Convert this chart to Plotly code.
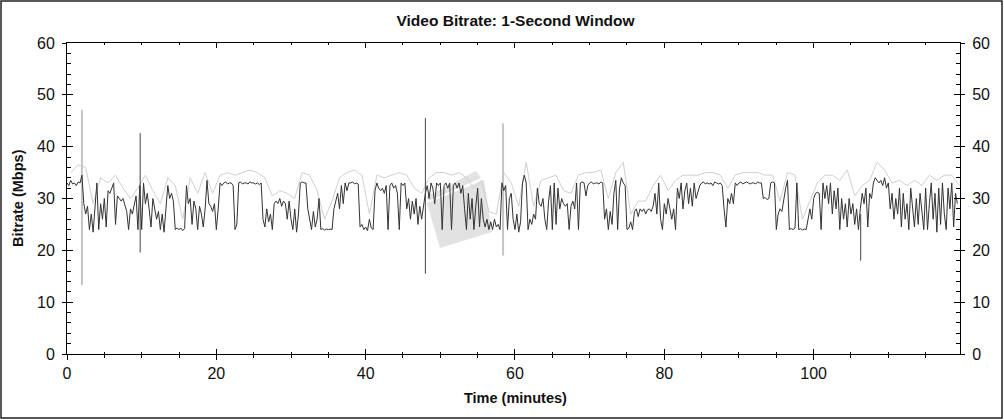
import plotly.graph_objects as go

# ---------------- data ----------------
step_min = 0.25  # sampling interval of the dark 1-second-window trace, minutes

bitrate = [
    33, 32.5, 33.5, 32.8,   # 0
    33, 32.5, 33.2, 33,     # 1
    34.5, 29, 27, 28.5,     # 2
    24, 27, 23.5, 28,       # 3
    33, 24, 29, 26,         # 4
    30, 24.5, 31.5, 31,     # 5
    32, 33, 25, 30.5,       # 6
    30, 29.5, 30, 28.5,     # 7
    27.5, 24, 28, 27,       # 8
    29, 30.5, 24, 32.5,     # 9
    24, 33, 29, 31,         # 10
    28, 24.5, 30, 28,       # 11
    26, 27.5, 24, 27,       # 12
    23.5, 28, 32.5, 30,     # 13
    31, 29.5, 24, 24.3,     # 14
    24, 24.3, 23.8, 24.2,   # 15
    32.5, 29, 30, 25,       # 16
    29.5, 28, 24, 28.5,     # 17
    27, 24.5, 28, 33.5,     # 18
    29, 28.5, 27.5, 29,     # 19
    24, 28, 33, 32.5,       # 20
    33, 33.2, 32.8, 33,     # 21
    33, 32.5, 24, 25,       # 22
    33, 33.2, 32.8, 33,     # 23
    33, 32.8, 33.2, 33,     # 24
    33, 32.8, 33, 32.7,     # 25
    33, 26, 24.5, 28,       # 26
    25.5, 27, 24, 29,       # 27
    29.5, 29, 30, 28.5,     # 28
    29.5, 29, 26, 29.5,     # 29
    26, 24, 28, 23.5,       # 30
    27, 33, 33.2, 33,       # 31
    33, 28, 26, 24,         # 32
    27.5, 24.5, 26, 30,     # 33
    24, 24.2, 23.9, 24.1,   # 34
    24, 24.1, 24, 28,       # 35
    29.5, 31, 28, 32.5,     # 36
    29, 33, 31.5, 33,       # 37
    33, 33.2, 32.8, 33,     # 38
    32.8, 24.5, 25, 24,     # 39
    24.5, 23.8, 26, 24.3,   # 40
    24, 31.5, 33, 32,       # 41
    31.5, 32, 31, 32.5,     # 42
    24, 32.5, 33, 32,       # 43
    32.5, 31, 24, 33,       # 44
    32.5, 33, 28, 30,       # 45
    26, 29.5, 27, 30,       # 46
    25, 28.5, 26, 29,       # 47
    31, 32.5, 30, 33,       # 48
    32, 29, 33, 32.5,       # 49
    33, 24, 32.5, 33,       # 50
    32, 33, 24, 32.5,       # 51
    33, 32, 33, 31,         # 52
    32.5, 28, 24, 31,       # 53
    26, 30, 24, 28.5,       # 54
    32, 24.5, 30, 26,       # 55
    24.5, 26, 24, 25.5,     # 56
    24, 26, 24.5, 25,       # 57
    24, 33, 31.5, 32.5,     # 58
    24, 30, 31, 26,         # 59
    24, 27, 23.5, 25.5,     # 60
    33, 34.5, 33, 24,       # 61
    26, 25, 27, 26,         # 62
    32, 29, 28.5, 30,       # 63
    26, 24, 29.5, 32.5,     # 64
    24, 33, 25, 32,         # 65
    28, 30, 29, 28.5,       # 66
    29, 24, 28.5, 29.5,     # 67
    28, 33, 24, 33,         # 68
    33.2, 33, 30.5, 32.5,   # 69
    33, 33.2, 32.8, 33,     # 70
    33, 32.8, 33.2, 33,     # 71
    26, 28, 24, 27.5,       # 72
    25, 31, 33.5, 24,       # 73
    32, 34, 33, 32.5,       # 74
    24, 24.3, 25.5, 24,     # 75
    27.5, 28, 26.5, 28,     # 76
    27.5, 28, 27, 27.8,     # 77
    28, 27.5, 28.5, 31,     # 78
    27, 33, 26, 24,         # 79
    29, 27, 30, 28,         # 80
    26, 28, 24, 32,         # 81
    30, 33, 28, 31.5,       # 82
    33, 29, 32, 28.5,       # 83
    33, 30, 31.5, 32.5,     # 84
    33, 33.2, 32.8, 33,     # 85
    32.8, 33, 32.5, 33.2,   # 86
    33, 32.8, 33, 32.5,     # 87
    28, 24.5, 30, 29,       # 88
    31, 29, 33, 32.5,       # 89
    33, 33.2, 32.8, 33,     # 90
    33.2, 33, 32.8, 33,     # 91
    33, 32.8, 33.2, 33,     # 92
    33, 30, 30.2, 29.8,     # 93
    30, 33, 33.2, 33,       # 94
    24, 27, 28, 27.5,       # 95
    30, 32, 33.5, 24,       # 96
    24.2, 24, 24.3, 33,     # 97
    24, 24.2, 23.9, 24.1,   # 98
    24, 26, 28, 26,         # 99
    30, 31, 31.2, 31,       # 100
    24, 33, 30, 32.5,       # 101
    29, 33, 27, 31.5,       # 102
    28, 32, 24, 30,         # 103
    26, 29, 24.5, 30,       # 104
    27, 29, 25, 28,         # 105
    24, 28, 31, 29,         # 106
    32, 24.5, 31, 30,       # 107
    33, 34, 33.5, 33,       # 108
    33.5, 32.5, 34, 32,     # 109
    33, 28, 31, 26,         # 110
    30, 27, 32, 24.5,       # 111
    31, 26, 29, 24,         # 112
    32, 28, 24.5, 30,       # 113
    25, 31, 27, 24,         # 114
    32, 24, 29, 33,         # 115
    26, 31, 23.5, 32,       # 116
    25, 33, 27, 24,         # 117
    32, 28, 33, 24.5,       # 118
    31, 29,                 # 119
]

# light-grey per-minute peak envelope (one value per minute, centred on the minute)
peak_t = [m + 0.5 for m in range(120)]
peak = [
    35, 36.5, 36, 29, 34, 33, 34.5, 32, 30, 32,
    34.5, 31.5, 29, 34, 32.5, 26, 34, 31, 35, 31,
    34.5, 35, 34.5, 35, 35.5, 35, 34, 30.5, 31.5, 31,
    30, 35, 34.5, 31.5, 26, 29.5, 34, 35, 35.5, 34.5,
    27, 34.5, 34, 34.5, 35, 34.5, 32, 31, 34, 35,
    35, 34.5, 35, 34, 32, 33.5, 27.5, 27, 35, 33,
    28.5, 37, 28.5, 33.5, 34, 34.5, 31.5, 31, 34.5, 35,
    35, 35.5, 30, 35, 37, 27, 29.5, 29.5, 32.5, 34.5,
    31.5, 33.5, 34.5, 34.5, 34.5, 35, 35, 34.5, 32, 34.5,
    35, 35, 35, 34.5, 34.5, 29.5, 35, 34.5, 26, 29.5,
    33, 34.5, 34.5, 33.5, 35.5, 30.5, 32.5, 33.5, 37, 35.5,
    33, 33.5, 32.5, 33.5, 32.5, 34.5, 33.5, 34.5, 34.5, 32.5,
]

# isolated spikes
light_spike_t = [2.0, 58.4]
light_spike_hi = [47.1, 44.5]
light_spike_lo = [13.3, 19.0]
dark_spike_t = [9.8, 48.0, 106.3]
dark_spike_hi = [42.6, 45.5, 27.0]
dark_spike_lo = [19.6, 15.5, 18.0]

x_range = [0, 119.6]
y_range = [0, 60]

# ---------------- figure ----------------
t = [i * step_min for i in range(len(bitrate))]

def segs(ts, lo, hi):
    xs, ys = [], []
    for a, b, c in zip(ts, lo, hi):
        xs += [a, a, None]
        ys += [b, c, None]
    return xs, ys

# plot-area geometry in pixels (for paper-referenced decorations)
L, R, T, B = 67, 44, 43, 66
PW, PH = 1004 - L - R, 420 - T - B
def px(x):
    return (x - L) / PW
def py(y):
    return (420 - B - y) / PH
def path(points):
    return "M " + " L ".join(f"{px(a):.4f},{py(b):.4f}" for a, b in points) + " Z"

fig = go.Figure()

fig.add_trace(go.Scatter(x=peak_t, y=peak, mode="lines",
                         line=dict(color="#d0d0d0", width=1), hoverinfo="skip"))
lx, ly = segs(light_spike_t, light_spike_lo, light_spike_hi)
fig.add_trace(go.Scatter(x=lx, y=ly, mode="lines",
                         line=dict(color="#c4c4c4", width=2), hoverinfo="skip"))
fig.add_trace(go.Scatter(x=t, y=bitrate, mode="lines",
                         line=dict(color="#333333", width=1), hoverinfo="skip"))
dx, dy = segs(dark_spike_t, dark_spike_lo, dark_spike_hi)
fig.add_trace(go.Scatter(x=dx, y=dy, mode="lines",
                         line=dict(color="#444444", width=1), hoverinfo="skip"))
# invisible anchors for the overlay axes
fig.add_trace(go.Scatter(x=[0], y=[0], xaxis="x2", yaxis="y3", mode="markers",
                         marker=dict(opacity=0), hoverinfo="skip"))
fig.add_trace(go.Scatter(x=[0], y=[0], xaxis="x", yaxis="y2", mode="markers",
                         marker=dict(opacity=0), hoverinfo="skip"))

FONT = "Liberation Sans, Arial, sans-serif"
tickfont = dict(family=FONT, size=16, color="#111")

fig.update_layout(
    width=1004, height=420,
    margin=dict(l=L, r=R, t=T, b=B, autoexpand=False),
    paper_bgcolor="white", plot_bgcolor="white",
    showlegend=False,
    title=dict(text="<b>Video Bitrate: 1-Second Window</b>", x=0.5135, xref="container",
               y=0.952, yref="container", xanchor="center", yanchor="middle",
               font=dict(family=FONT, size=15.5, color="#111")),
    xaxis=dict(range=x_range, dtick=20, tick0=0, ticks="outside", ticklen=5,
               tickcolor="black", showline=True, linecolor="black", linewidth=1,
               mirror=True, showgrid=False, zeroline=False, tickfont=tickfont,
               ticklabelstandoff=0,
               minor=dict(dtick=5, ticks="outside", ticklen=3, tickcolor="black", showgrid=False)),
    xaxis2=dict(range=x_range, overlaying="x", anchor="y", side="bottom", dtick=20, tick0=0,
                ticks="inside", ticklen=5, tickcolor="black", showticklabels=False,
                showline=True, linecolor="black", mirror="allticks", showgrid=False,
                zeroline=False,
                minor=dict(dtick=5, ticks="inside", ticklen=2, tickcolor="black", showgrid=False)),
    yaxis=dict(range=y_range, dtick=10, ticks="outside", ticklen=4, tickcolor="black",
               showline=True, linecolor="black", linewidth=1, mirror=True,
               showgrid=False, zeroline=False, tickfont=tickfont, ticklabelstandoff=4),
    yaxis2=dict(range=y_range, overlaying="y", side="right", anchor="x", dtick=10,
                ticks="outside", ticklen=4, tickcolor="black", showline=False,
                showgrid=False, zeroline=False, tickfont=tickfont, ticklabelstandoff=4),
    yaxis3=dict(range=y_range, overlaying="y", side="left", anchor="x2", dtick=10,
                ticks="inside", ticklen=6, tickcolor="black", showticklabels=False,
                showline=True, linecolor="black", mirror="allticks", showgrid=False,
                zeroline=False,
                minor=dict(dtick=2, ticks="inside", ticklen=4, tickcolor="black", showgrid=False)),
    annotations=[
        dict(text="<b>Bitrate (Mbps)</b>", textangle=-90, xref="paper", yref="paper",
             x=px(18), y=py(198), xanchor="center", yanchor="middle",
             showarrow=False, font=dict(family=FONT, size=14.5, color="#111")),
        dict(text="<b>Time (minutes)</b>", xref="paper", yref="paper",
             x=px(515), y=py(398), xanchor="center", yanchor="middle",
             showarrow=False, font=dict(family=FONT, size=14.5, color="#111")),
    ],
    shapes=[
        # faint watermark behind the data
        dict(type="path", xref="paper", yref="paper", layer="below",
             path=path([(427, 203), (484, 180), (492, 232), (440, 248)]),
             fillcolor="#e2e2e2", line=dict(width=0)),
        dict(type="path", xref="paper", yref="paper", layer="below",
             path=path([(426, 197), (476, 171), (481, 178), (429, 201)]),
             fillcolor="#e2e2e2", line=dict(width=0)),
        # outer frame
        dict(type="rect", xref="paper", yref="paper", layer="above",
             x0=px(1), x1=px(1002), y0=py(418), y1=py(1),
             line=dict(color="#222", width=1.5), fillcolor="rgba(0,0,0,0)"),
    ],
)

fig.write_html("out.html", config={"displayModeBar": False},
               post_script="document.body.style.margin='0';document.body.style.overflow='hidden';")
